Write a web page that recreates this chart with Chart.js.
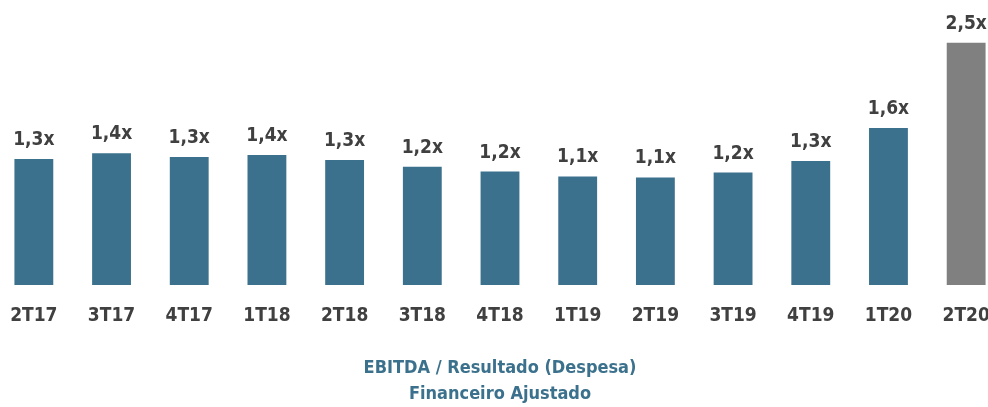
<!DOCTYPE html>
<html>
<head>
<meta charset="utf-8">
<script src="https://cdn.jsdelivr.net/npm/chart.js@4.4.1/dist/chart.umd.min.js"></script>
<style>
  html, body { margin: 0; padding: 0; background: #fff; overflow: hidden; }
  #wrap { position: absolute; left: -5px; top: 0; width: 1010px; height: 407px; }
</style>
</head>
<body>
<div id="wrap"><canvas id="ebitdaChart"></canvas></div>
<script>
// Dados do grafico
const quarters = ['2T17', '3T17', '4T17', '1T18', '2T18', '3T18', '4T18', '1T19', '2T19', '3T19', '4T19', '1T20', '2T20'];
const ratios = [1.30, 1.36, 1.32, 1.34, 1.29, 1.22, 1.17, 1.12, 1.11, 1.16, 1.28, 1.62, 2.50];
const ratioLabels = ['1,3x', '1,4x', '1,3x', '1,4x', '1,3x', '1,2x', '1,2x', '1,1x', '1,1x', '1,2x', '1,3x', '1,6x', '2,5x'];
const barColors = ['#3b718c', '#3b718c', '#3b718c', '#3b718c', '#3b718c', '#3b718c', '#3b718c', '#3b718c', '#3b718c', '#3b718c', '#3b718c', '#3b718c', '#808080'];

const fontFamily = "'Liberation Sans Narrow', 'DejaVu Sans Condensed', 'Liberation Sans', Arial, sans-serif";

// labels above bars
const valueLabels = {
  id: 'valueLabels',
  afterDatasetsDraw(chart) {
    const ctx = chart.ctx;
    const meta = chart.getDatasetMeta(0);
    ctx.save();
    ctx.font = 'bold 19px ' + fontFamily;
    ctx.fillStyle = '#404040';
    ctx.textAlign = 'center';
    ctx.textBaseline = 'alphabetic';
    meta.data.forEach((bar, i) => {
      ctx.fillText(ratioLabels[i], bar.x, bar.y - 14);
    });
    ctx.restore();
  }
};

const ctx = document.getElementById('ebitdaChart').getContext('2d');
const ebitdaChart = new Chart(ctx, {
  type: 'bar',
  data: {
    labels: quarters,
    datasets: [
      {
        data: ratios,
        backgroundColor: barColors,
        borderColor: barColors,
        borderWidth: 0,
        barPercentage: 0.5,
        categoryPercentage: 1,
      },
    ],
  },
  options: {
    responsive: true,
    maintainAspectRatio: false,
    animation: false,
    layout: { padding: { top: 0, bottom: 0, left: 0, right: 0 } },
    plugins: {
      legend: { display: false },
      tooltip: { enabled: false },
      title: {
        display: true,
        position: 'bottom',
        text: ['EBITDA / Resultado (Despesa)', 'Financeiro Ajustado'],
        color: '#3b718c',
        font: { family: fontFamily, size: 18, weight: 'bold', lineHeight: 1.45 },
        padding: { top: 15, bottom: 0 },
      },
    },
    scales: {
      x: {
        grid: { display: false },
        border: { display: false },
        ticks: {
          color: '#404040',
          font: { family: fontFamily, size: 19, weight: 'bold' },
          padding: 12,
        },
      },
      y: {
        display: false,
        min: 0,
        max: 2.94,
      },
    },
  },
  plugins: [valueLabels],
});
</script>
</body>
</html>
